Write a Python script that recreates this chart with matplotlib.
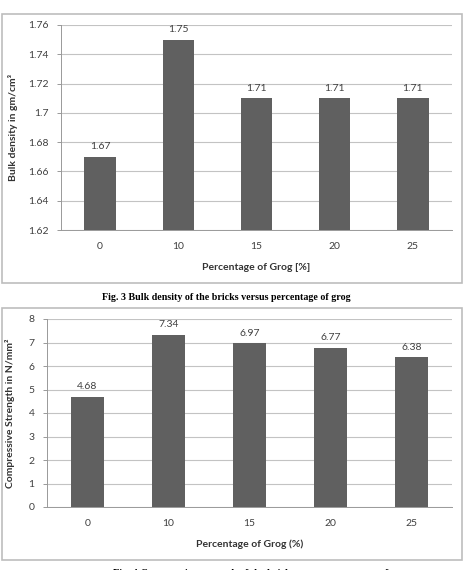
import matplotlib
matplotlib.use("Agg")
import matplotlib.pyplot as plt
from matplotlib.patches import Rectangle

categories = ["0", "10", "15", "20", "25"]
bulk_density = [1.67, 1.75, 1.71, 1.71, 1.71]
bulk_labels = ["1.67", "1.75", "1.71", "1.71", "1.71"]
bulk_ticks = [1.62, 1.64, 1.66, 1.68, 1.70, 1.72, 1.74, 1.76]
bulk_ticklabels = ["1.62", "1.64", "1.66", "1.68", "1.7", "1.72", "1.74", "1.76"]
strength = [4.68, 7.34, 6.97, 6.77, 6.38]
strength_labels = ["4.68", "7.34", "6.97", "6.77", "6.38"]
strength_ticks = [0, 1, 2, 3, 4, 5, 6, 7, 8]

W, H = 464, 570
fig = plt.figure(figsize=(W / 100, H / 100), dpi=100)
fig.patch.set_facecolor("white")
plt.rcParams["font.family"] = ["Lato", "DejaVu Sans"]

BAR = "#606060"
GRID = "#c3c3c3"
FRAME = "#bdbdbd"
TXT = "#404040"
FS = 7.5


def px_axes(l, t, r, b):
    return fig.add_axes([l / W, 1 - b / H, (r - l) / W, (b - t) / H])


def frame(l, t, r, b):
    fig.patches.append(Rectangle((l / W, 1 - b / H), (r - l) / W, (b - t) / H,
                                 transform=fig.transFigure, fill=False,
                                 edgecolor=FRAME, linewidth=1.2))


def style(ax, ticks, ticklabels, ylim):
    ax.set_ylim(*ylim)
    ax.set_xlim(-0.5, len(categories) - 0.5)
    ax.set_yticks(ticks)
    ax.set_yticklabels(ticklabels, fontsize=FS, color=TXT)
    ax.set_xticks(range(len(categories)))
    ax.set_xticklabels(categories, fontsize=FS, color=TXT)
    ax.tick_params(axis="x", length=0, pad=9)
    ax.tick_params(axis="y", length=3, color="#999999", width=0.7, pad=6)
    ax.yaxis.grid(True, color=GRID, linewidth=0.8)
    ax.set_axisbelow(True)
    for s in ["top", "right"]:
        ax.spines[s].set_visible(False)
    ax.spines["left"].set_color("#999999")
    ax.spines["left"].set_linewidth(0.7)
    ax.spines["bottom"].set_color("#999999")
    ax.spines["bottom"].set_linewidth(0.7)


# ---- Top chart ----
frame(2, 14, 462, 283)
ax1 = px_axes(61, 25, 452, 230)
x = range(len(categories))
ax1.bar(x, bulk_density, width=0.4, color=BAR, zorder=2)
style(ax1, bulk_ticks, bulk_ticklabels, (1.62, 1.76))
for i, (v, lab) in enumerate(zip(bulk_density, bulk_labels)):
    ax1.annotate(lab, (i, v), xytext=(0, 4), textcoords="offset points",
                 ha="center", va="bottom", fontsize=FS, color=TXT)
ax1.set_xlabel("Percentage of Grog [%]", fontsize=FS, fontweight="bold",
               color="#333333", labelpad=8)
ax1.set_ylabel("Bulk density in gm/cm³", fontsize=FS, fontweight="bold",
               color="#333333", labelpad=7)

fig.text(226 / W, 1 - 297 / H,
         "Fig. 3 Bulk density of the bricks versus percentage of grog",
         ha="center", va="center", fontsize=7.2, fontweight="bold",
         family="Liberation Serif")

# ---- Bottom chart ----
frame(2, 308, 462, 560)
ax2 = px_axes(47, 319, 452, 507)
ax2.bar(x, strength, width=0.4, color=BAR, zorder=2)
style(ax2, strength_ticks, [str(t) for t in strength_ticks], (0, 8))
for i, (v, lab) in enumerate(zip(strength, strength_labels)):
    ax2.annotate(lab, (i, v), xytext=(0, 4), textcoords="offset points",
                 ha="center", va="bottom", fontsize=FS, color=TXT)
ax2.set_xlabel("Percentage of Grog (%)", fontsize=FS, fontweight="bold",
               color="#333333", labelpad=8)
ax2.set_ylabel("Compressive Strength in N/mm²", fontsize=FS, fontweight="bold",
               color="#333333", labelpad=10)

fig.text(262 / W, 1 - 576 / H,
         "Fig. 4 Compressive strength of the bricks versus percentage of grog",
         ha="center", va="baseline", fontsize=7.5, fontweight="bold",
         family="Liberation Serif")

fig.savefig("out.png", dpi=100)
